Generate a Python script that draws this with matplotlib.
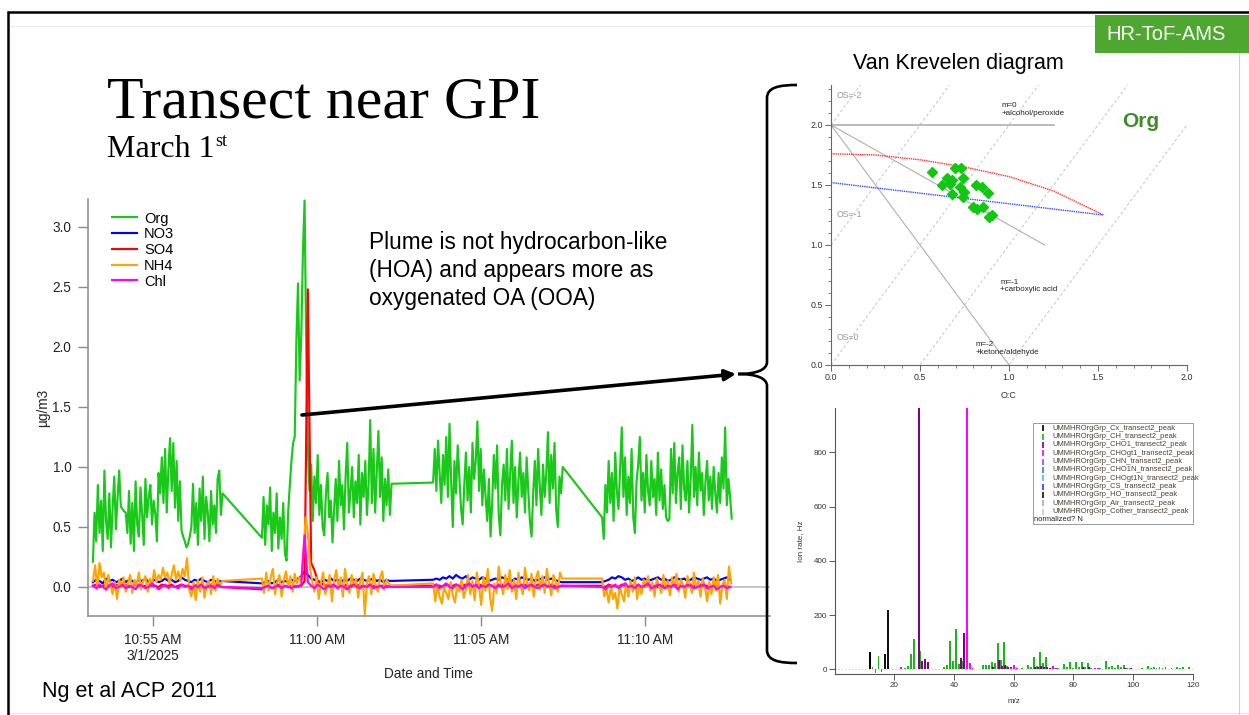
import numpy as np
import matplotlib
matplotlib.use("Agg")
import matplotlib.pyplot as plt
import matplotlib.dates as mdates
from matplotlib.patches import Rectangle, PathPatch
from matplotlib.path import Path
from matplotlib.ticker import MultipleLocator, FuncFormatter, FormatStrFormatter

plt.rcParams['font.family'] = ['Liberation Sans', 'DejaVu Sans']

# ---------------- AMS time series (µg/m3) ----------------
seg_starts = ['2025-03-01T10:53:10', '2025-03-01T10:58:19',
              '2025-03-01T11:03:32', '2025-03-01T11:08:41']
org_step, nh4_step, ion_step = 3, 4, 6   # sampling interval in seconds

org_a = [0.21, 0.62, 0.38, 0.85, 0.45, 0.72, 0.30, 0.97, 0.55, 0.40, 0.78, 0.33, 0.66, 0.92, 0.48, 0.74,
         0.97, 0.67, 0.65, 0.63, 0.62, 0.45, 0.80, 0.36, 0.70, 0.30, 0.88, 0.52, 0.42, 0.83, 0.60, 0.35,
         0.90, 0.58, 0.75, 0.85, 0.52, 0.72, 0.61, 0.38, 0.95, 0.78, 1.08, 0.70, 1.15, 0.62, 0.98, 1.24,
         0.80, 1.20, 0.66, 1.05, 0.55, 0.88, 0.47, 0.42, 0.38, 0.33, 0.36, 0.42, 0.50, 0.86, 0.45, 0.70,
         0.35, 0.82, 0.55, 0.92, 0.40, 0.75, 0.62, 0.38, 0.80, 0.52, 0.68, 0.45, 0.90, 0.97, 0.60, 0.78]
org_b = [0.41, 0.75, 0.35, 0.68, 0.52, 0.83, 0.30, 0.62, 0.45, 0.78, 0.32, 0.58, 0.40, 0.70, 0.28, 0.22,
         0.62, 0.85, 1.05, 1.20, 1.25, 2.05, 2.53, 1.72, 2.10, 2.80, 3.22, 2.00, 1.15, 0.80,
         1.02, 0.55, 0.92, 0.70, 1.10, 0.60, 0.85, 0.50, 0.43, 0.78, 0.95, 0.58, 0.72, 0.37, 0.65, 0.90,
         0.55, 1.05, 0.68, 0.85, 0.48, 0.92, 1.20, 0.62, 0.80, 1.00, 0.58, 0.88, 0.70, 1.10, 0.52, 0.95,
         0.75, 1.05, 0.60, 0.85, 1.39, 0.70, 1.15, 0.62, 0.95, 1.30, 0.75, 1.08, 0.55, 0.90, 0.68, 0.98, 0.60, 0.86]
org_c = [0.87, 1.15, 0.80, 1.22, 0.95, 0.70, 1.10, 0.85, 1.25, 0.75, 1.36, 0.88, 0.50, 1.05, 0.78, 1.18,
         0.92, 0.66, 0.52, 0.85, 1.12, 0.72, 1.00, 0.62, 1.20, 0.90, 1.05, 1.38, 0.80, 1.15, 0.68, 0.98,
         0.75, 0.55, 0.90, 0.42, 0.70, 1.10, 0.82, 1.18, 0.60, 0.43, 0.85, 1.02, 0.72, 1.15, 0.65, 0.95,
         1.22, 0.70, 1.00, 0.58, 0.88, 1.12, 0.75, 0.95, 0.62, 1.08, 0.80, 0.55, 0.42, 0.78, 1.05, 0.68,
         1.15, 0.85, 0.60, 1.02, 0.75, 0.95, 1.29, 0.70, 1.10, 0.82, 1.20, 0.65, 0.50, 0.92, 0.78, 1.00]
org_d = [0.58, 0.40, 0.85, 0.62, 1.05, 0.70, 0.95, 0.55, 1.12, 0.80, 0.65, 1.00, 1.33, 0.75, 1.08, 0.60,
         0.92, 0.70, 1.15, 0.58, 0.45, 0.88, 1.02, 1.25, 0.72, 0.95, 0.62, 1.10, 0.80, 0.68, 1.05, 0.75,
         0.90, 0.60, 1.12, 0.72, 0.98, 0.65, 0.85, 0.58, 0.55, 0.56, 1.15, 0.78, 1.20, 0.70, 0.95, 1.08,
         0.65, 1.18, 0.82, 0.72, 1.05, 0.62, 0.90, 1.35, 0.75, 1.00, 0.68, 1.12, 0.80, 0.95, 0.60, 0.88,
         1.05, 0.72, 0.92, 0.65, 1.00, 0.78, 0.62, 0.95, 0.70, 1.08, 0.82, 1.33, 0.68, 0.90, 0.75, 0.57]

no3_a = [0.04, 0.06, 0.05, 0.03, 0.07, 0.05, 0.06, 0.04, 0.05, 0.07, 0.04, 0.06, 0.05, 0.03, 0.06, 0.05,
         0.07, 0.04, 0.05, 0.06, 0.04, 0.05, 0.07, 0.05, 0.06, 0.04, 0.05, 0.08, 0.06, 0.05, 0.04, 0.06,
         0.05, 0.07, 0.05, 0.04, 0.06, 0.05, 0.04, 0.05]
no3_b = [0.03, 0.04, 0.05, 0.03, 0.04, 0.06, 0.04, 0.05, 0.04, 0.06, 0.05, 0.07, 0.09, 0.13, 0.10, 0.07,
         0.06, 0.05, 0.04, 0.06, 0.05, 0.07, 0.05, 0.06, 0.04, 0.06, 0.05, 0.07, 0.06, 0.05, 0.07, 0.06,
         0.05, 0.06, 0.07, 0.05, 0.06, 0.04, 0.06, 0.05]
no3_c = [0.06, 0.07, 0.06, 0.08, 0.07, 0.09, 0.07, 0.10, 0.08, 0.07, 0.09, 0.06, 0.08, 0.07, 0.06, 0.08,
         0.07, 0.05, 0.06, 0.07, 0.06, 0.08, 0.07, 0.06, 0.05, 0.07, 0.06, 0.08, 0.07, 0.06, 0.07, 0.05,
         0.06, 0.07, 0.08, 0.06, 0.07, 0.06, 0.05, 0.04]
no3_d = [0.04, 0.05, 0.06, 0.08, 0.07, 0.09, 0.08, 0.06, 0.07, 0.05, 0.06, 0.08, 0.06, 0.07, 0.05, 0.06,
         0.07, 0.08, 0.06, 0.07, 0.05, 0.06, 0.08, 0.07, 0.06, 0.07, 0.05, 0.06, 0.08, 0.07, 0.06, 0.07,
         0.08, 0.06, 0.07, 0.05, 0.06, 0.07, 0.08, 0.06]

so4_a = [0.01, 0.02, 0.00, 0.01, 0.02, 0.01, 0.00, 0.02, 0.01, 0.01, 0.02, 0.00, 0.01, 0.02, 0.01, 0.00,
         0.01, 0.02, 0.01, 0.01, 0.00, 0.02, 0.01, 0.01, 0.02, 0.00, 0.01, 0.02, 0.01, 0.01, 0.00, 0.01,
         0.02, 0.01, 0.00, 0.01, 0.02, 0.01, 0.01, 0.00]
so4_b = [-0.02, 0.00, 0.01, -0.01, 0.00, 0.01, 0.00, 0.01, 0.00, 0.01, 0.00, 0.01, 0.01, 0.05, 2.48, 0.20,
         0.14, 0.05, 0.03, 0.02, 0.01, 0.02, 0.01, 0.00, 0.01, 0.02, 0.01, 0.00, 0.01, 0.02, 0.01, 0.00,
         0.01, 0.02, 0.01, 0.00, 0.01, 0.01, 0.00, 0.01]
so4_c = [0.01, 0.02, 0.01, 0.00, 0.02, 0.01, 0.01, 0.02, 0.00, 0.01, 0.02, 0.01, 0.01, 0.00, 0.02, 0.01,
         0.01, 0.02, 0.01, 0.00, 0.01, 0.02, 0.01, 0.01, 0.00, 0.02, 0.01, 0.01, 0.02, 0.00, 0.01, 0.01,
         0.02, 0.01, 0.00, 0.01, 0.02, 0.01, 0.00, 0.01]
so4_d = [0.01, 0.00, 0.02, 0.01, 0.01, 0.00, 0.02, 0.01, 0.00, 0.01, 0.02, 0.01, 0.00, 0.01, 0.02, 0.01,
         0.01, 0.00, 0.02, 0.01, 0.00, 0.01, 0.02, 0.01, 0.01, 0.00, 0.01, 0.02, 0.01, 0.00, 0.02, 0.01,
         0.01, 0.00, 0.02, 0.01, 0.00, 0.01, 0.01, 0.00]

nh4_a = [0.05, 0.18, -0.02, 0.20, 0.08, 0.12, -0.03, 0.10, 0.02, -0.06, 0.04, -0.10, 0.06, 0.00, 0.08, -0.04,
         0.03, 0.10, -0.05, 0.06, 0.01, 0.12, -0.02, 0.05, 0.09, -0.04, 0.07, 0.02, 0.14, 0.04, 0.10, 0.06,
         0.16, 0.08, 0.12, 0.03, 0.10, 0.18, 0.06, 0.13, 0.05, 0.15, 0.09, 0.24, -0.02, -0.08, 0.04, -0.11,
         0.06, -0.04, 0.08, -0.09, 0.02, 0.05, -0.06, 0.09, -0.03, 0.07, 0.00, 0.05]
nh4_b = [0.07, -0.05, 0.12, -0.03, 0.08, 0.15, -0.06, 0.04, 0.10, -0.08, 0.06, 0.13, 0.00, 0.09, -0.04, 0.11,
         0.03, 0.08, 0.05, 0.30, 0.58, 0.45, 0.15, 0.05,
         -0.04, 0.08, -0.10, 0.04, 0.12, -0.06, 0.02, 0.10, -0.12, 0.06, 0.14, -0.02, 0.08, -0.08, 0.15, 0.03,
         -0.05, 0.10, 0.00, 0.07, -0.09, 0.05, 0.12, -0.23, 0.04, 0.09, -0.06, 0.11, 0.02, -0.04, 0.08, 0.13,
         -0.02, 0.06, 0.03, 0.01]
nh4_c = [0.03, -0.12, 0.02, -0.08, -0.14, 0.00, -0.05, -0.10, 0.04, -0.07, -0.13, 0.02, -0.04, 0.06, -0.09, -0.02,
         0.10, -0.06, 0.05, -0.11, 0.12, 0.00, -0.15, 0.08, -0.03, 0.15, -0.08, -0.20, 0.03, -0.05, 0.17, 0.02,
         -0.06, 0.10, -0.02, 0.14, -0.04, 0.06, -0.10, 0.12, 0.01, -0.06, 0.16, 0.04, -0.03, 0.11, -0.08, 0.07,
         0.13, -0.02, 0.09, -0.05, 0.15, 0.03, -0.07, 0.10, 0.05, -0.04, 0.12, 0.07]
nh4_d = [0.07, -0.08, -0.02, -0.13, 0.01, -0.10, -0.05, -0.18, 0.00, -0.06, -0.12, 0.03, -0.08, 0.05, -0.04, 0.08,
         -0.10, 0.02, -0.06, 0.06, 0.00, 0.09, -0.03, 0.04, -0.08, 0.07, 0.01, -0.05, 0.10, -0.02, 0.05, -0.07,
         0.08, 0.00, 0.11, -0.04, 0.06, 0.02, -0.09, 0.09, 0.03, -0.05, 0.12, -0.01, 0.05, -0.08, 0.07, 0.00,
         -0.12, 0.04, -0.06, 0.08, -0.03, 0.10, -0.14, 0.02, 0.06, -0.10, 0.17, 0.03]

chl_a = [0.01, -0.01, 0.02, 0.00, -0.02, 0.01, 0.03, -0.01, 0.00, 0.02, -0.01, 0.01, 0.00, -0.02, 0.02, 0.01,
         -0.01, 0.00, 0.03, 0.01, -0.02, 0.00, 0.02, -0.01, 0.01, 0.00, -0.01, 0.02, 0.00, 0.01, -0.02, 0.01,
         0.00, 0.02, -0.01, 0.00, 0.01, -0.01, 0.02, 0.00]
chl_b = [-0.01, 0.00, 0.01, -0.01, 0.00, 0.02, -0.01, 0.01, 0.00, -0.01, 0.01, 0.00, 0.02, 0.43, 0.04, 0.01,
         -0.01, 0.02, 0.00, -0.02, 0.01, 0.00, 0.02, -0.01, 0.01, 0.00, -0.02, 0.01, 0.02, 0.00, -0.01, 0.01,
         0.00, 0.02, -0.01, 0.00, 0.01, -0.01, 0.01, 0.00]
chl_c = [0.00, 0.02, -0.01, 0.01, 0.03, 0.00, -0.01, 0.02, 0.01, -0.02, 0.01, 0.03, 0.00, 0.02, -0.01, 0.01,
         0.00, 0.02, 0.01, -0.01, 0.02, 0.00, 0.01, 0.03, -0.01, 0.01, 0.00, 0.02, -0.01, 0.01, 0.02, 0.00,
         -0.01, 0.01, 0.02, 0.00, 0.01, -0.01, 0.00, 0.01]
chl_d = [0.00, -0.02, 0.01, 0.00, 0.02, -0.01, 0.01, 0.03, 0.00, 0.01, -0.01, 0.02, 0.00, 0.01, 0.03, -0.01,
         0.00, 0.02, 0.01, -0.01, 0.01, 0.00, 0.02, -0.02, 0.01, 0.00, 0.02, 0.01, -0.01, 0.00, 0.01, 0.02,
         -0.01, 0.00, 0.01, -0.02, 0.00, 0.01, -0.01, 0.00]

species = ['Org', 'NO3', 'SO4', 'NH4', 'Chl']
species_colors = ['#19c819', '#0000ff', '#ff0000', '#ffa500', '#ff00ff']

# ---------------- Van Krevelen (O:C vs H:C) ----------------
vk_oc = [0.569, 0.697, 0.730, 0.650, 0.678, 0.740, 0.622, 0.669, 0.725, 0.747,
         0.815, 0.847, 0.884, 0.678, 0.743, 0.796, 0.819, 0.852, 0.903, 0.889]
vk_hc = [1.606, 1.639, 1.639, 1.556, 1.542, 1.556, 1.500, 1.508, 1.481, 1.444,
         1.500, 1.486, 1.436, 1.425, 1.403, 1.319, 1.297, 1.314, 1.250, 1.236]
red_curve_oc = [0.0, 0.25, 0.50, 0.75, 1.00, 1.25, 1.53]
red_curve_hc = [1.76, 1.75, 1.71, 1.65, 1.57, 1.45, 1.25]
blue_line_oc = [0.0, 1.53]
blue_line_hc = [1.52, 1.25]

# ---------------- family mass spectrum (Hz) ----------------
cx_mz, cx_val = [12, 24, 36], [63, 3, 3]
ho_mz, ho_val = [17, 18], [55, 219]
ch_mz = [13, 14, 15, 16, 24, 25, 26, 27, 29, 37,
         38, 39, 40, 41, 42, 43, 50, 51, 52, 53,
         54, 55, 56, 57, 58, 63, 65, 66, 67, 68,
         69, 70, 71, 74, 75, 77, 78, 79, 80, 81,
         82, 83, 84, 85, 86, 89, 91, 92, 93, 94,
         95, 96, 97, 98, 99, 103, 105, 106, 107, 108,
         109, 110, 111, 113, 115, 116, 117, 119]
ch_val = [10, -15, 50, -10, 4, 14, 55, 113, 68, 10,
          18, 106, 32, 148, 20, 30, 15, 18, 17, 28,
          22, 96, 33, 102, 12, 5, 18, 8, 47, 12,
          63, 22, 44, 5, 4, 20, 8, 28, 6, 27,
          8, 28, 9, 25, 5, 5, 30, 8, 13, 5,
          18, 7, 17, 5, 4, 4, 13, 4, 8, 4,
          7, 4, 8, 4, 8, 4, 7, 8]
cho1_mz = [28, 29, 30, 31, 42, 43, 44, 53, 55, 56, 57, 58, 59, 60, 67, 68, 69, 70, 71, 72, 73, 83, 85, 87, 97, 99]
cho1_val = [1400, 30, 37, 28, 43, 134, 20, 10, 35, 12, 18, 10, 8, 8, 8, 10, 12, 8, 10, 6, 6, 8, 8, 5, 6, 5]
chogt1_mz = [22, 44, 45, 46, 59, 60, 61, 73, 74, 87, 88, 101, 102]
chogt1_val = [8, 1400, 22, 5, 5, 15, 5, 12, 5, 4, 4, 3, 3]

family_names = ['Cx', 'CH', 'CHO1', 'CHOgt1', 'CHN', 'CHO1N', 'CHOgt1N', 'CS', 'HO', 'Air', 'Cother']
family_colors = ['#000000', '#1db41d', '#800080', '#ff00ff', '#a040ff', '#3a7fa8',
                 '#33c2ff', '#3333ff', '#111111', '#aaaaaa', '#cccccc']

W, H = 1249, 715
fig = plt.figure(figsize=(W / 100, H / 100), dpi=100)


def px_axes(x0, y0, x1, y1):
    """Axes spanning pixel box (x0, y0)-(x1, y1), y measured from the top."""
    return fig.add_axes([x0 / W, 1 - y1 / H, (x1 - x0) / W, (y1 - y0) / H])


def seg_times(start, n, step):
    return np.datetime64(start) + np.arange(n) * np.timedelta64(step, 's')


def series(segs, step):
    t = np.concatenate([seg_times(s, len(v), step) for s, v in zip(seg_starts, segs)])
    y = np.concatenate([np.asarray(v, float) for v in segs])
    return t, y


# ---------------- main time-series panel ----------------
ax = px_axes(88, 199, 770, 616)
data = {
    'Org': series([org_a, org_b, org_c, org_d], org_step),
    'NO3': series([no3_a, no3_b, no3_c, no3_d], ion_step),
    'SO4': series([so4_a, so4_b, so4_c, so4_d], ion_step),
    'NH4': series([nh4_a, nh4_b, nh4_c, nh4_d], nh4_step),
    'Chl': series([chl_a, chl_b, chl_c, chl_d], ion_step),
}
ax.axhline(0, color='#b4b4b4', lw=1.1, zorder=1)
for name, col in zip(species, species_colors):
    t, y = data[name]
    ax.plot(t, y, color=col, lw=1.55, label=name, zorder=2)

ax.set_xlim(np.datetime64('2025-03-01T10:53:01'), np.datetime64('2025-03-01T11:13:48'))
ax.set_ylim(-0.242, 3.233)
ax.yaxis.set_major_locator(MultipleLocator(0.5))
ax.yaxis.set_major_formatter(FormatStrFormatter('%.1f'))
ax.xaxis.set_major_locator(mdates.MinuteLocator(byminute=range(0, 60, 5)))


def time_label(x, pos):
    d = mdates.num2date(x)
    s = d.strftime('%I:%M %p').lstrip('0')
    if pos == 0:
        s += f'\n{d.month}/{d.day}/{d.year}'
    return s


ax.xaxis.set_major_formatter(FuncFormatter(time_label))
for s in ('top', 'right'):
    ax.spines[s].set_visible(False)
for s in ('left', 'bottom'):
    ax.spines[s].set_color('#8a8a8a')
    ax.spines[s].set_linewidth(1.1)
ax.tick_params(direction='out', length=7, width=1.0, color='#8a8a8a',
               labelsize=9.8, labelcolor='#222222', pad=5)
ax.set_xlabel('Date and Time', fontsize=9.8, color='#222222', labelpad=3)
ax.set_ylabel('µg/m3', fontsize=9.8, color='#222222', labelpad=0)
ax.yaxis.set_label_coords(-0.056, 0.5)
ax.patch.set_alpha(0)
ax.legend(loc='upper left', bbox_to_anchor=(0.035, 0.97), frameon=False, fontsize=10.5,
          handlelength=1.75, handletextpad=0.45, labelspacing=0.12, borderpad=0, borderaxespad=0)

# ---------------- Van Krevelen panel ----------------
vk = px_axes(831, 85, 1187, 365)
vk.set_xlim(0, 2.0)
vk.set_ylim(0, 2.333)
oc = np.array([0.0, 2.0])
for os_val in (-2, -1, 0, 1, 2):
    vk.plot(oc, 2 * oc - os_val, ls=(0, (3, 2.5)), color='#c4c4c4', lw=0.7, zorder=1)
vk.plot([0, 1.25], [2.0, 2.0], color='#a8a8a8', lw=1.1, zorder=1)
vk.plot([0, 1.2], [2.0, 1.0], color='#b0b0b0', lw=0.8, zorder=1)
vk.plot([0, 1.0], [2.0, 0.0], color='#b0b0b0', lw=0.8, zorder=1)
vk.plot(red_curve_oc, red_curve_hc, color='#ff3030', ls=(0, (1, 0.6)), lw=1.0, zorder=2)
vk.plot(blue_line_oc, blue_line_hc, color='#3050ff', ls=(0, (1, 0.6)), lw=1.0, zorder=2)
vk.plot(vk_oc, vk_hc, ls='none', marker='D', ms=5.0, color='#10c810', mec='#10c810', zorder=3)

os_style = dict(fontsize=6.3, va='top', ha='left', color='#9a9a9a')
vk.text(0.03, 2.28, 'OS=-2', **os_style)
vk.text(0.03, 1.29, 'OS=-1', **os_style)
vk.text(0.03, 0.27, 'OS=0', **os_style)
m_style = dict(fontsize=5.8, va='top', ha='left', color='#222222', linespacing=1.15)
vk.text(0.96, 2.19, 'm=0\n+alcohol/peroxide', **m_style)
vk.text(0.95, 0.72, 'm=-1\n+carboxylic acid', **m_style)
vk.text(0.81, 0.20, 'm=-2\n+ketone/aldehyde', **m_style)
vk.text(1.74, 2.03, 'Org', color='#3d8c2a', fontsize=15, fontweight='bold', ha='center', va='center')

vk.xaxis.set_major_locator(MultipleLocator(0.5))
vk.xaxis.set_minor_locator(MultipleLocator(0.1))
vk.yaxis.set_major_locator(MultipleLocator(0.5))
vk.yaxis.set_minor_locator(MultipleLocator(0.1))
vk.xaxis.set_major_formatter(FormatStrFormatter('%.1f'))
vk.yaxis.set_major_formatter(FormatStrFormatter('%.1f'))
for s in ('top', 'right'):
    vk.spines[s].set_visible(False)
for s in ('left', 'bottom'):
    vk.spines[s].set_color('#666666')
    vk.spines[s].set_linewidth(0.8)
vk.tick_params(which='major', direction='out', length=4, width=0.7, color='#666666',
               labelsize=6.4, labelcolor='#333333', pad=2)
vk.tick_params(which='minor', direction='out', length=2, width=0.6, color='#666666')
vk.set_xlabel('O:C', fontsize=6.4, color='#333333', labelpad=6)
vk.patch.set_alpha(0)

# ---------------- family mass spectrum panel ----------------
ms = px_axes(835, 408, 1193, 674)
ms.set_xlim(0.25, 120)
ms.set_ylim(-17, 963)
ms.axhline(0, color='#c8c8c8', lw=0.8, ls=(0, (1, 2)), zorder=1)
bw = 0.65
ms.bar(cx_mz, cx_val, width=bw, color=family_colors[0], lw=0, zorder=2)
ms.bar(ho_mz, ho_val, width=bw, color=family_colors[8], lw=0, zorder=2)
ms.bar(np.array(ch_mz) - 0.2, ch_val, width=bw, color=family_colors[1], lw=0, zorder=2)
ms.bar(np.array(cho1_mz) + 0.25, cho1_val, width=bw, color=family_colors[2], lw=0, zorder=3)
ms.bar(np.array(chogt1_mz) + 0.25, chogt1_val, width=bw, color=family_colors[3], lw=0, zorder=3)
ms.xaxis.set_major_locator(MultipleLocator(20))
ms.yaxis.set_major_locator(MultipleLocator(200))
for s in ('top', 'right'):
    ms.spines[s].set_visible(False)
for s in ('left', 'bottom'):
    ms.spines[s].set_color('#555555')
    ms.spines[s].set_linewidth(0.8)
ms.tick_params(direction='out', length=4, width=0.7, color='#555555',
               labelsize=5.8, labelcolor='#333333', pad=2)
ms.set_xlabel('m/z', fontsize=5.8, color='#333333', labelpad=6)
ms.set_ylabel('Ion rate, Hz', fontsize=5.8, color='#333333', labelpad=7)
ms.patch.set_alpha(0)

# family legend box
lx0, lx1, ly0, ly1 = 0.553, 1.0, 0.944, 0.564
ms.add_patch(Rectangle((lx0, ly1), lx1 - lx0, ly0 - ly1, transform=ms.transAxes,
                       facecolor='white', edgecolor='#9a9a9a', lw=0.7, zorder=5, clip_on=False))
row_h = 8.33 / 266
for k, (fam, col) in enumerate(zip(family_names, family_colors)):
    yk = (674 - 428.3) / 266 - k * row_h
    ms.plot([0.582], [yk], marker='|', ms=5, mew=1.2, color=col, transform=ms.transAxes,
            zorder=6, clip_on=False)
    ms.text(0.606, yk, f'UMMHROrgGrp_{fam}_transect2_peak', transform=ms.transAxes,
            fontsize=5.4, color='#4a4036', va='center', ha='left', zorder=6)
ms.text(0.556, (674 - 519.3) / 266, 'normalized? N', transform=ms.transAxes,
        fontsize=5.4, color='#222222', va='center', ha='left', zorder=6)

# ---------------- slide decorations and text ----------------
ov = fig.add_axes([0, 0, 1, 1], zorder=10)
ov.set_xlim(0, W)
ov.set_ylim(H, 0)
ov.axis('off')
ov.patch.set_alpha(0)

ov.plot([8, W], [26, 26], color='#ececec', lw=0.8, zorder=1)
ov.plot([8, W], [713, 713], color='#e4e4e4', lw=0.8, zorder=1)
ov.plot([1239, 1239], [53, H], color='#cfcfcf', lw=0.8, zorder=1)
ov.plot([8, 8, W], [H, 12, 12], color='black', lw=1.8, solid_joinstyle='miter', zorder=4)

ov.add_patch(Rectangle((1095, 15), 160, 38, facecolor='#4ea72e', edgecolor='none', zorder=3))
ov.text(1166, 34, 'HR-ToF-AMS', color='white', fontsize=14.5, ha='center', va='center', zorder=5)

ov.text(107, 118, 'Transect near GPI', family=['Liberation Serif', 'DejaVu Serif'],
        fontsize=43, ha='left', va='baseline', color='black')
mt = ov.text(107, 157, 'March 1', family=['Liberation Serif', 'DejaVu Serif'],
             fontsize=23, ha='left', va='baseline', color='black')
fig.canvas.draw()
bb = mt.get_window_extent()
ov.text(bb.x1 + 1, 146, 'st', family=['Liberation Serif', 'DejaVu Serif'],
        fontsize=13, ha='left', va='baseline', color='black')

for k, line in enumerate(['Plume is not hydrocarbon-like', '(HOA) and appears more as',
                          'oxygenated OA (OOA)']):
    ov.text(369, 242 + 28 * k, line, fontsize=16.3, ha='left', va='center', color='black')

ov.text(958, 63, 'Van Krevelen diagram', fontsize=15.5, ha='center', va='center', color='black')
ov.text(42, 692, 'Ng et al ACP 2011', fontsize=15.5, ha='left', va='center', color='black')

ov.annotate('', xy=(736, 374), xytext=(302, 415),
            arrowprops=dict(arrowstyle='-|>', lw=2.6, color='black', mutation_scale=16,
                            shrinkA=0, shrinkB=0))

brace = Path([(797, 85), (780, 85), (767, 87), (767, 98),
              (767, 362),
              (767, 370), (756, 374), (738, 374),
              (756, 374), (767, 378), (767, 386),
              (767, 650),
              (767, 661), (780, 663), (797, 663)],
             [Path.MOVETO, Path.CURVE4, Path.CURVE4, Path.CURVE4,
              Path.LINETO,
              Path.CURVE4, Path.CURVE4, Path.CURVE4,
              Path.CURVE4, Path.CURVE4, Path.CURVE4,
              Path.LINETO,
              Path.CURVE4, Path.CURVE4, Path.CURVE4])
ov.add_patch(PathPatch(brace, facecolor='none', edgecolor='black', lw=1.9))

fig.savefig('out.png', dpi=100, facecolor='white')
